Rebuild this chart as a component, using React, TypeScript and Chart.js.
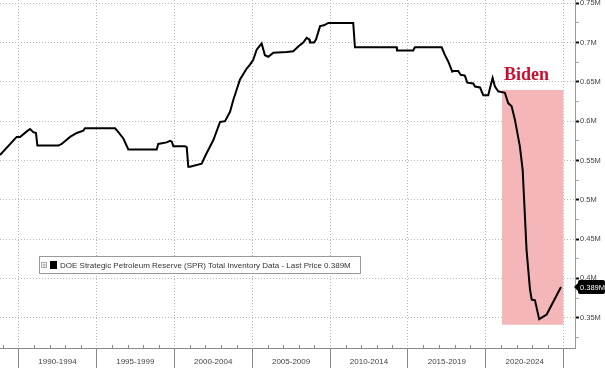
import React, { useEffect, useRef } from 'react';
import { Chart, registerables } from 'chart.js';

Chart.register(...registerables);

// ---- Data ----
const YEARS = [
  1988.81, 1989.88, 1990.1, 1990.53, 1990.74, 1990.95, 1991.12, 1991.21, 1992.56, 1992.77,
  1993.31, 1993.74, 1994.16, 1994.27, 1996.2, 1996.41, 1996.73, 1997.05, 1998.87, 1998.97,
  1999.51, 1999.73, 1999.84, 1999.94, 2000.69, 2000.8, 2000.9, 2001.01, 2001.76, 2001.97,
  2002.51, 2002.94, 2003.26, 2003.58, 2003.79, 2004.22, 2004.65, 2004.86, 2005.07, 2005.29,
  2005.61, 2005.82, 2006.04, 2006.36, 2007.22, 2007.64, 2007.96, 2008.28, 2008.5, 2008.67,
  2008.71, 2008.97, 2009.1, 2009.36, 2009.61, 2009.89, 2011.49, 2011.6, 2014.28, 2014.3,
  2015.34, 2015.45, 2017.17, 2017.38, 2017.59, 2017.85, 2017.96, 2018.23, 2018.39, 2018.66,
  2018.81, 2019.2, 2019.31, 2019.63, 2019.84, 2020.16, 2020.27, 2020.44, 2020.59, 2020.8,
  2021.23, 2021.44, 2021.66, 2021.87, 2022.19, 2022.37, 2022.62, 2022.84, 2022.95, 2023.16,
  2023.43, 2023.59, 2023.91, 2024.83,
];
const VALUES = [
  0.557, 0.58, 0.58, 0.587, 0.59, 0.586, 0.585, 0.569, 0.569, 0.571,
  0.58, 0.585, 0.588, 0.591, 0.591, 0.586, 0.578, 0.564, 0.564, 0.571,
  0.573, 0.575, 0.574, 0.568, 0.568, 0.567, 0.542, 0.542, 0.546, 0.555,
  0.576, 0.599, 0.6, 0.612, 0.627, 0.653, 0.667, 0.672, 0.678, 0.691,
  0.699, 0.684, 0.682, 0.687, 0.688, 0.689, 0.695, 0.7, 0.706, 0.704,
  0.7, 0.7, 0.704, 0.721, 0.722, 0.725, 0.725, 0.694, 0.694, 0.69,
  0.69, 0.694, 0.694, 0.684, 0.676, 0.663, 0.664, 0.664, 0.659, 0.658,
  0.649, 0.648, 0.644, 0.643, 0.633, 0.633, 0.642, 0.655, 0.644, 0.638,
  0.636, 0.623, 0.619, 0.602, 0.568, 0.538, 0.436, 0.386, 0.373, 0.372,
  0.348, 0.35, 0.354, 0.389,
];
const PERIOD_BOUNDARIES = [1990, 1995, 2000, 2005, 2010, 2015, 2020, 2025];
const PERIOD_LABELS = ['1990-1994', '1995-1999', '2000-2004', '2005-2009', '2010-2014', '2015-2019', '2020-2024'];
const Y_MAJOR_TICKS = [0.35, 0.4, 0.45, 0.5, 0.55, 0.6, 0.65, 0.7, 0.75];
const Y_MINOR_TICKS = [0.325, 0.375, 0.425, 0.475, 0.525, 0.575, 0.625, 0.675, 0.725];
const X_MIN = 1988.81;
const X_MAX = 2025.73;
const Y_MIN = 0.3114;
const Y_MAX = 0.7542;
const SERIES_NAME = 'DOE Strategic Petroleum Reserve (SPR) Total Inventory Data';
const LAST_PRICE = 0.389;
const LAST_PRICE_LABEL = '0.389M';
const HIGHLIGHT_START = 2021.04;
const HIGHLIGHT_END = 2024.98;
const HIGHLIGHT_TOP = 0.6398;
const HIGHLIGHT_BOTTOM = 0.341;
const HIGHLIGHT_LABEL = 'Biden';

const SANS = '"Liberation Sans", Arial, sans-serif';

const isMajor = (v: number) => Y_MAJOR_TICKS.some((m) => Math.abs(m - v) < 1e-6);

const overlayPlugin = {
  id: 'overlay',
  beforeDatasetsDraw(chart: any) {
    const { ctx, scales } = chart;
    const x = scales.x, y = scales.y;
    const l = x.getPixelForValue(HIGHLIGHT_START);
    const r = x.getPixelForValue(HIGHLIGHT_END);
    const t = y.getPixelForValue(HIGHLIGHT_TOP);
    const b = y.getPixelForValue(HIGHLIGHT_BOTTOM);
    ctx.save();
    ctx.fillStyle = '#f5b6b9';
    ctx.fillRect(l, t, r - l, b - t);
    ctx.font = 'bold 18px "Liberation Serif", serif';
    ctx.fillStyle = '#c8102e';
    ctx.textBaseline = 'alphabetic';
    ctx.textAlign = 'left';
    ctx.fillText(HIGHLIGHT_LABEL, l + 2, t - 10);
    ctx.restore();
  },
  afterDraw(chart: any) {
    const { ctx, scales, chartArea } = chart;
    const x = scales.x, y = scales.y;
    ctx.save();
    // minor yearly ticks above the x axis
    ctx.strokeStyle = '#888';
    ctx.lineWidth = 1;
    for (let yr = Math.ceil(X_MIN); yr <= Math.floor(X_MAX); yr++) {
      if (PERIOD_BOUNDARIES.includes(yr)) continue;
      const px = Math.round(x.getPixelForValue(yr)) + 0.5;
      ctx.beginPath();
      ctx.moveTo(px, chartArea.bottom);
      ctx.lineTo(px, chartArea.bottom - 3);
      ctx.stroke();
    }
    // period labels
    ctx.font = `8px ${SANS}`;
    ctx.fillStyle = '#444';
    ctx.textAlign = 'center';
    ctx.textBaseline = 'middle';
    for (let i = 0; i < PERIOD_LABELS.length; i++) {
      const cx = (x.getPixelForValue(PERIOD_BOUNDARIES[i]) + x.getPixelForValue(PERIOD_BOUNDARIES[i + 1])) / 2;
      ctx.fillText(PERIOD_LABELS[i], cx, 362);
    }
    // legend
    ctx.fillStyle = '#fff';
    ctx.fillRect(39.5, 256.5, 321, 17);
    ctx.strokeStyle = '#999';
    ctx.strokeRect(39.5, 256.5, 321, 17);
    ctx.strokeStyle = '#aaa';
    ctx.strokeRect(41.5, 262.5, 5, 5);
    ctx.beginPath();
    ctx.moveTo(42.5, 265); ctx.lineTo(46, 265);
    ctx.moveTo(44, 263.5); ctx.lineTo(44, 267);
    ctx.stroke();
    ctx.fillStyle = '#000';
    ctx.fillRect(50, 261, 7, 8);
    ctx.font = `8px ${SANS}`;
    ctx.fillStyle = '#333';
    ctx.textAlign = 'left';
    ctx.textBaseline = 'middle';
    ctx.fillText(`${SERIES_NAME} - Last Price ${LAST_PRICE_LABEL}`, 60, 265.5);
    // last price tag
    const py = y.getPixelForValue(LAST_PRICE);
    const tx = chartArea.right + 3;
    ctx.fillStyle = '#000';
    ctx.beginPath();
    ctx.moveTo(chartArea.right - 1, py);
    ctx.lineTo(tx + 1, py - 5);
    ctx.lineTo(tx + 1, py + 5);
    ctx.closePath();
    ctx.fill();
    ctx.beginPath();
    (ctx as any).roundRect(tx, py - 7, 605 - tx, 14, 2);
    ctx.fill();
    ctx.fillStyle = '#fff';
    ctx.font = `7.5px ${SANS}`;
    ctx.textAlign = 'center';
    ctx.fillText(LAST_PRICE_LABEL, (tx + 605) / 2 + 1, py + 0.5);
    ctx.restore();
  },
};

export default function App() {
  const ref = useRef<HTMLCanvasElement | null>(null);
  useEffect(() => {
    document.body.style.margin = '0';
    const canvas = ref.current!;
    const chart = new Chart(canvas, {
      type: 'line',
      data: {
        datasets: [
          {
            label: SERIES_NAME,
            data: YEARS.map((yr, i) => ({ x: yr, y: VALUES[i] })),
            borderColor: '#000',
            borderWidth: 2,
            pointRadius: 0,
            tension: 0,
            fill: false,
          },
        ],
      },
      options: {
        responsive: false,
        animation: false,
        devicePixelRatio: 1,
        layout: { padding: 0 },
        plugins: { legend: { display: false }, tooltip: { enabled: false } },
        scales: {
          x: {
            type: 'linear',
            min: X_MIN,
            max: X_MAX,
            afterBuildTicks: (s: any) => {
              s.ticks = PERIOD_BOUNDARIES.map((v) => ({ value: v }));
            },
            afterFit: (s: any) => {
              s.height = 20;
              s.paddingLeft = 0;
              s.paddingRight = 0;
            },
            ticks: { display: false },
            grid: {
              color: '#b8b8b8',
              lineWidth: 1,
              drawTicks: true,
              tickLength: 20,
              tickColor: '#888',
            },
            border: { display: true, color: '#888', width: 1, dash: [1, 2] },
          },
          y: {
            type: 'linear',
            position: 'right',
            min: Y_MIN,
            max: Y_MAX,
            afterBuildTicks: (s: any) => {
              s.ticks = [...Y_MINOR_TICKS, ...Y_MAJOR_TICKS].sort((a, b) => a - b).map((v) => ({ value: v }));
            },
            afterFit: (s: any) => {
              s.width = 30;
              s.paddingTop = 0;
              s.paddingBottom = 0;
            },
            ticks: {
              padding: 1,
              color: '#444',
              font: { family: SANS, size: 7.5 },
              callback: (v: any) => (isMajor(Number(v)) ? `${+Number(v).toFixed(2)}M` : ''),
            },
            grid: {
              color: (c: any) => (c.tick && isMajor(c.tick.value) ? '#b8b8b8' : 'rgba(0,0,0,0)'),
              lineWidth: 1,
              drawTicks: true,
              tickLength: 4,
              tickColor: (c: any) => (c.tick && isMajor(c.tick.value) ? '#111' : '#aaa'),
              tickWidth: (c: any) => (c.tick && isMajor(c.tick.value) ? 2 : 1),
            },
            border: { display: true, color: '#999', width: 1, dash: [1, 2] },
          },
        },
      },
      plugins: [overlayPlugin],
    } as any);
    return () => chart.destroy();
  }, []);
  return (
    <div style={{ position: 'absolute', left: 0, top: 0, width: 605, height: 368 }}>
      <canvas ref={ref} width={605} height={368} style={{ display: 'block' }} />
    </div>
  );
}
